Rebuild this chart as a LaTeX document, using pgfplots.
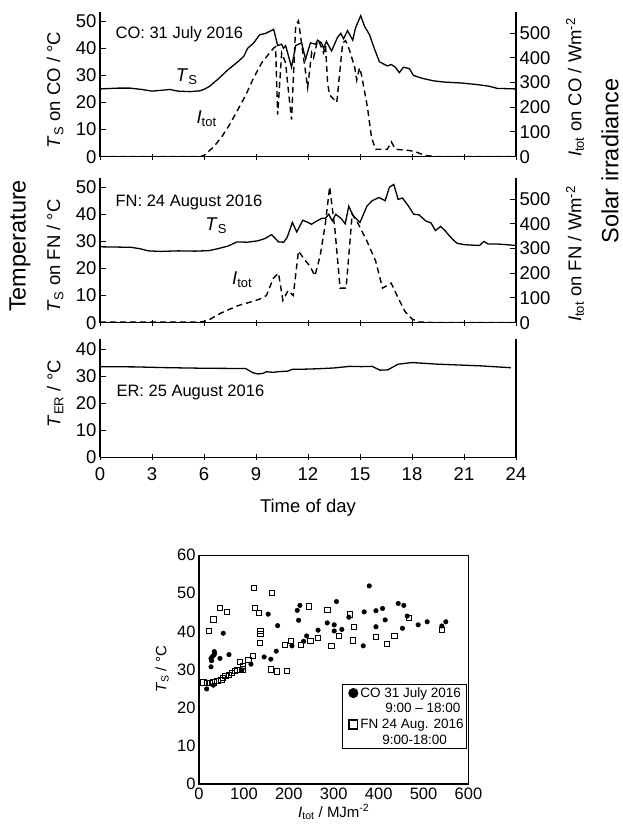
\documentclass[border=0pt]{standalone}
\usepackage{fontspec}
\setmainfont{Liberation Sans}
\usepackage{pgfplots}
\pgfplotsset{compat=1.18}

\newcommand{\lblfont}{\fontsize{18.5}{21}\selectfont}
\newcommand{\Ts}{\textit{T}\textsubscript{S}}
\newcommand{\Itot}{\textit{I}\textsubscript{tot}}

\pgfplotsset{
  timeax/.style={
    scale only axis, width=416pt,
    xmin=0, xmax=24, xtick={0,3,...,24},
    axis line style={line width=1.2pt},
    tick style={line width=1pt, black},
    major tick length=6pt, ytick align=inside, xtick align=center,
    /pgf/number format/assume math mode=true,
    tick label style={font=\lblfont},
    xticklabel style={yshift=-4pt},
    label style={font=\lblfont},
  },
  solidT/.style={black, line width=1.3pt},
  dashI/.style={black, line width=1.4pt, dash pattern=on 6pt off 4pt},
}

\begin{document}
\begin{tikzpicture}[x=1pt,y=1pt]
\path[use as bounding box] (0pt,0pt) rectangle (622pt,824pt);

% ---------- CO panel ----------
\begin{axis}[timeax, at={(100pt,667.3pt)}, anchor=south west, height=145pt,
    ymin=0, ymax=53.5, ytick={0,10,...,50},
    axis x line*=bottom, axis y line*=left, xticklabels={},
    ylabel={\Ts{} on CO / °C},
    ylabel style={at={(axis description cs:-0.108,0.46)}, anchor=center}]
\addplot[solidT] coordinates {
(0,25)(1.04,25.3)(1.73,25.3)(2.42,24.8)(2.99,24.2)(3.57,24.5)(4.03,24.8)(4.49,24.2)
(5.18,24.0)(5.76,24.3)(5.99,24.8)(6.33,26)(6.79,28.5)(7.37,32)(7.95,35)(8.29,37)
(8.52,40)(8.87,42)(9.21,45)(9.56,45.5)(10.02,47)(10.25,41)(10.48,41.5)(10.59,40)
(10.71,41)(11.05,33)(11.29,41)(11.63,42)(11.86,36)(12.14,42)(12.44,41.5)(12.55,43)
(12.78,42)(12.9,40)(13.06,42.5)(13.36,39)(13.7,44)(13.89,45.5)(14.05,43.5)(14.28,46.5)
(14.58,43)(14.74,47.5)(15.04,52)(15.27,48)(15.55,45)(15.82,40)(16.12,35)(16.58,33.5)
(16.81,34)(17.04,33)(17.27,31)(17.5,33)(17.85,32.5)(18.08,30)(18.54,29)(19.23,28)
(19.92,27.5)(20.84,27.2)(21.76,26.6)(22.45,26)(22.92,25.2)(24,25)};
\node[font=\fontsize{16.5}{18}\selectfont, anchor=west] at (axis cs:0.7,45) {CO: 31 July 2016};
\node[font=\lblfont] at (axis cs:5.0,29.5) {\Ts};
\node[font=\lblfont] at (axis cs:6.15,14) {\Itot};
\end{axis}
\begin{axis}[timeax, at={(100pt,667.3pt)}, anchor=south west, height=145pt,
    ymin=0, ymax=587, ytick={0,100,...,500},
    axis y line*=right, axis x line=none,
    ylabel={\Itot{} on CO / Wm\textsuperscript{-2}},
    ylabel style={at={(axis description cs:1.142,0.477)}, anchor=center}]
\addplot[dashI] coordinates {
(0,0)(5.76,0)(6.0,5)(6.56,40)(7.02,80)(7.48,130)(7.95,190)(8.41,250)(8.87,320)
(9.33,380)(9.67,410)(10.02,440)(10.13,445)(10.25,170)(10.48,420)(10.71,380)(10.82,300)
(11.05,150)(11.29,530)(11.45,550)(11.98,280)(12.21,420)(12.32,400)(12.55,470)(12.67,460)
(12.9,420)(13.01,450)(13.13,300)(13.24,250)(13.66,220)(14.0,460)(14.17,470)(14.4,430)
(14.7,360)(14.81,310)(14.97,360)(15.09,330)(15.43,200)(15.66,80)(15.89,30)(16.58,30)
(16.81,60)(17.04,30)(17.85,25)(18.19,20)(18.77,5)(19.46,0)(24,0)};
\end{axis}

% ---------- FN panel ----------
\begin{axis}[timeax, at={(100pt,501.3pt)}, anchor=south west, height=145pt,
    ymin=0, ymax=53.5, ytick={0,10,...,50},
    axis x line*=bottom, axis y line*=left, xticklabels={},
    ylabel={\Ts{} on FN / °C},
    ylabel style={at={(axis description cs:-0.108,0.46)}, anchor=center}]
\addplot[solidT] coordinates {
(0,28)(1,27.9)(1.8,27.8)(2.3,27.3)(2.8,26.5)(3.5,26.3)(4.5,26.5)(5.5,26.4)(6.3,26.6)
(6.8,27.3)(7.4,28.3)(7.9,29.8)(8.5,29.7)(9.1,30.2)(9.5,31)(9.9,32.5)(10.3,29.8)
(10.6,29.7)(10.8,31.5)(11.1,37)(11.35,33.5)(11.7,37.8)(12.0,37)(12.2,36.3)(12.5,37.5)
(12.8,38.5)(13.0,38.5)(13.2,40)(13.4,37.5)(13.6,40)(13.9,38.5)(14.15,36.5)(14.35,43)
(14.6,39.5)(15.0,37)(15.4,43)(15.7,45)(16.1,46.2)(16.45,45)(16.7,50)(16.95,51)
(17.2,45.5)(17.45,46)(17.8,43)(18.1,40)(18.4,39.8)(18.8,37.5)(19.1,36.8)(19.35,34)
(19.65,35.5)(19.9,34)(20.3,31)(20.6,29.3)(21.0,28.8)(21.5,28.6)(21.9,28.5)(22.15,30)
(22.4,29)(23.0,29)(24,28.5)};
\node[font=\fontsize{16.5}{18}\selectfont, anchor=west] at (axis cs:0.7,44.3) {FN: 24 August 2016};
\node[font=\lblfont] at (axis cs:6.7,35.8) {\Ts};
\node[font=\lblfont] at (axis cs:8.2,15.8) {\Itot};
\end{axis}
\begin{axis}[timeax, at={(100pt,501.3pt)}, anchor=south west, height=145pt,
    ymin=0, ymax=587, ytick={0,100,...,500},
    axis y line*=right, axis x line=none,
    ylabel={\Itot{} on FN / Wm\textsuperscript{-2}},
    ylabel style={at={(axis description cs:1.142,0.474)}, anchor=center}]
\addplot[dashI] coordinates {
(0,3)(5.8,3)(6.2,8)(7,40)(8,70)(8.6,82)(9.2,95)(9.6,110)(10.0,180)(10.3,200)
(10.55,90)(10.85,130)(11.15,110)(11.45,290)(11.8,255)(12.1,230)(12.4,190)(12.7,270)
(13.0,400)(13.25,550)(13.55,380)(13.85,140)(14.2,140)(14.55,440)(14.9,400)(15.4,330)
(15.9,250)(16.3,140)(16.8,160)(17.2,100)(17.6,45)(18.0,15)(18.4,3)(19.0,1)(24,0)};
\end{axis}

% ---------- ER panel ----------
\begin{axis}[timeax, at={(100pt,366.7pt)}, anchor=south west, height=118pt,
    ymin=0, ymax=43.6, ytick={0,10,...,40},
    axis x line*=bottom, axis y line*=left,
    xlabel={Time of day},
    xlabel style={at={(axis description cs:0.5,-0.424)}, anchor=center},
    ylabel={\textit{T}\textsubscript{ER} / °C},
    ylabel style={at={(axis description cs:-0.108,0.54)}, anchor=center},
    after end axis/.code={\draw[line width=1.2pt] (rel axis cs:1,0) -- (rel axis cs:1,1);}]
\addplot[solidT] coordinates {
(0,33.5)(2,33.4)(4,33.1)(6,32.9)(8.4,32.8)(8.8,31.3)(9.1,30.8)(9.4,31.0)(9.6,31.6)
(10,31.4)(10.4,31.7)(10.8,31.8)(11.1,32.5)(11.5,32.5)(12.5,32.7)(13.5,33)(14.4,33.6)
(15.1,33.5)(15.7,33.6)(16.15,32.2)(16.6,32.3)(17.2,34.4)(18.0,35)(19.5,34.4)
(21.9,33.8)(23.7,33.1)};
\node[font=\fontsize{16.5}{18}\selectfont, anchor=west] at (axis cs:0.75,24.1) {ER: 25 August 2016};
\end{axis}

\node[font=\fontsize{23.5}{26}\selectfont, rotate=90] at (20pt,578pt) {Temperature};
\node[font=\fontsize{23.5}{26}\selectfont, rotate=90] at (610pt,663pt) {Solar irradiance};

% ---------- scatter ----------
\begin{axis}[scale only axis, at={(199pt,40pt)}, anchor=south west,
    width=269.5pt, height=229pt,
    xmin=0, xmax=600, ymin=0, ymax=60,
    xtick={0,100,...,600}, ytick={0,10,...,60},
    major tick length=0pt,
    axis line style={line width=0.8pt},
    /pgf/number format/assume math mode=true,
    tick label style={font=\fontsize{16.5}{18}\selectfont},
    label style={font=\fontsize{15}{17}\selectfont},
    xlabel={\Itot{} / MJm\textsuperscript{-2}},
    xlabel style={at={(axis description cs:0.5,-0.122)}, anchor=center},
    ylabel={\Ts{} / °C},
    ylabel style={at={(axis description cs:-0.137,0.5)}, anchor=center},
    legend style={at={(0.532,0.435)}, anchor=north west, draw=black,
      line width=0.9pt, font=\fontsize{13.5}{15}\selectfont,
      inner xsep=2pt, inner ysep=2pt, row sep=3.5pt, column sep=2pt,
      nodes={inner sep=0.6pt}},
    legend cell align=left,
    legend image post style={mark size=4.3pt, mark options={line width=1.5pt}},
    after end axis/.code={\draw[line width=2pt] (rel axis cs:0,1) |- (rel axis cs:1,0);}]
\addplot[only marks, mark=*, mark size=2.3pt, black] coordinates {
(17,24.9)(32,25.9)(26.7,30.7)(28,32.3)(26.7,32.9)(29.7,33.4)(33.4,33.8)(34,34.7)
(34.5,34.2)(46.7,32.9)(66.7,33.9)(54,39.5)(95.7,29.9)(115.7,31.4)(145,33.3)(160,32.7)
(172,34.8)(154,44.5)(175,41.5)(207,36.2)(218.7,45.5)(224.7,46.8)(221.8,42.9)(233,37.4)
(239.6,38.8)(265,40.3)(285.5,42.2)(301,41.7)(301,40.1)(306,47.8)(318,40.5)(333.7,43.7)
(365.6,36.2)(367.8,45.1)(379,51.9)(394,45.4)(394,41.2)(408.7,46)(414.5,43)(443.5,47.3)
(456,46.8)(463.5,44)(453,40.8)(488,41.7)(508,42.5)(540.6,41.4)(549.5,42.5)};
\addlegendentry{CO 31 July 2016}
\addlegendimage{empty legend}
\addlegendentry{\hspace{25pt}9:00 -- 18:00}
\addplot[only marks, mark=square, mark size=2.6pt, black, mark options={line width=0.9pt}] coordinates {
(10,26.6)(17,26.4)(24.5,26.5)(32,26.6)(41,27.1)(50,27.2)(54,27.7)(59,28.3)(67,28.6)
(74,29.0)(80,29.7)(85,29.9)(91,32)(97,31)(98.6,30)(110,32.5)(119.5,33.5)(136,36.9)
(137,39.3)(137,40.2)(134,44.8)(125,46.2)(122,51.3)(163,50.1)(159.5,30)(174,29.5)
(195,29.7)(192,36.5)(204,37.4)(227,36.4)(248,37.5)(245,46.5)(265,38.2)(286,45.6)
(295,36.1)(312,38.8)(336,44.4)(345,41.2)(342,37.6)(394.5,38.6)(418,36.7)(435,38.8)
(468,43.5)(540.6,40.3)(23,40.1)(32,43.1)(46.7,46.1)(63,45)};
\addlegendentry{FN 24 Aug. 2016}
\addlegendimage{empty legend}
\addlegendentry{\hspace{22pt}9:00-18:00}
\end{axis}
\end{tikzpicture}
\end{document}
